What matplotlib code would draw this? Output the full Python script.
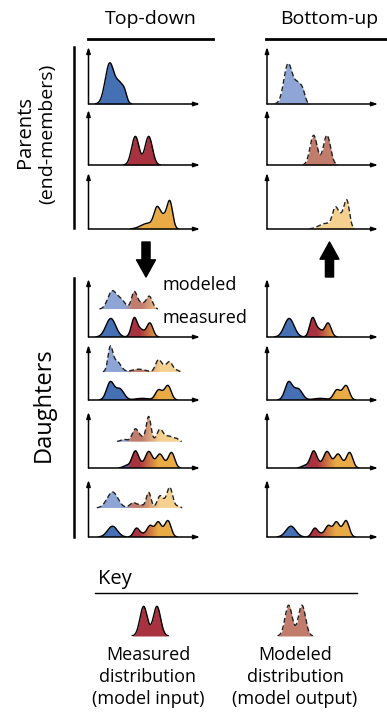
import numpy as np
import matplotlib.pyplot as plt
from matplotlib.colors import LinearSegmentedColormap
from matplotlib.patches import Polygon, FancyArrowPatch

plt.rcParams['font.family'] = ['Open Sans', 'DejaVu Sans']

W, H = 387, 712

# peaks of every distribution: (centre, height, width), as fractions of its little axes
blue_parent = [(0.19, 0.71, 0.040), (0.28, 0.33, 0.035), (0.325, 0.12, 0.020)]
red_parent = [(0.42, 0.52, 0.033), (0.54, 0.52, 0.033)]
yellow_parent = [(0.53, 0.10, 0.060), (0.615, 0.34, 0.028), (0.675, 0.20, 0.030), (0.73, 0.47, 0.025)]

blue_parent_model = [(0.19, 0.70, 0.038), (0.28, 0.34, 0.035), (0.325, 0.12, 0.020)]
red_parent_model = [(0.42, 0.54, 0.032), (0.54, 0.54, 0.032)]
yellow_parent_model = [(0.53, 0.10, 0.060), (0.615, 0.32, 0.026), (0.67, 0.20, 0.030), (0.72, 0.47, 0.024)]

daughters_measured = [
    [(0.20, 0.32, 0.044), (0.41, 0.32, 0.026), (0.47, 0.12, 0.030), (0.55, 0.24, 0.028)],
    [(0.195, 0.32, 0.033), (0.28, 0.20, 0.038), (0.48, 0.03, 0.060), (0.625, 0.16, 0.028),
     (0.67, 0.07, 0.030), (0.715, 0.24, 0.028)],
    [(0.34, 0.04, 0.030), (0.42, 0.30, 0.030), (0.48, 0.04, 0.030), (0.54, 0.28, 0.030),
     (0.59, 0.04, 0.030), (0.64, 0.23, 0.030), (0.69, 0.04, 0.030), (0.745, 0.27, 0.028)],
    [(0.215, 0.19, 0.044), (0.43, 0.15, 0.026), (0.49, 0.05, 0.030), (0.55, 0.17, 0.026),
     (0.59, 0.06, 0.030), (0.625, 0.21, 0.025), (0.67, 0.08, 0.030), (0.715, 0.26, 0.027)],
]
daughters_modeled = [
    [(0.21, 0.30, 0.038), (0.29, 0.16, 0.038), (0.41, 0.29, 0.025), (0.47, 0.10, 0.030), (0.545, 0.22, 0.028)],
    [(0.195, 0.40, 0.021), (0.25, 0.20, 0.038), (0.45, 0.05, 0.060), (0.625, 0.20, 0.025),
     (0.675, 0.09, 0.030), (0.73, 0.17, 0.025), (0.79, 0.03, 0.020)],
    [(0.32, 0.04, 0.030), (0.42, 0.22, 0.028), (0.48, 0.07, 0.030), (0.54, 0.44, 0.021),
     (0.64, 0.21, 0.028), (0.72, 0.10, 0.040), (0.79, 0.04, 0.020)],
    [(0.215, 0.28, 0.048), (0.40, 0.09, 0.030), (0.47, 0.05, 0.030), (0.54, 0.27, 0.021),
     (0.64, 0.19, 0.025), (0.685, 0.07, 0.030), (0.73, 0.34, 0.025), (0.80, 0.03, 0.020)],
]
modeled_base = [0.48, 0.51, 0.47, 0.51]

blue, red, yellow = '#4670b4', '#a8323f', '#e9ab45'
blue_m, red_m, yellow_m = '#8ea5d5', '#c17c6c', '#f5d190'

cmap_meas = LinearSegmentedColormap.from_list(
    'meas', [(0, blue), (0.32, blue), (0.38, red), (0.45, red), (0.62, yellow), (1, yellow)])
cmap_mod = LinearSegmentedColormap.from_list(
    'mod', [(0, blue_m), (0.32, blue_m), (0.39, red_m), (0.47, red_m), (0.64, yellow_m), (1, yellow_m)])

xs = np.linspace(0, 1, 600)


def curve(peaks):
    y = np.zeros_like(xs)
    for c, h, w in peaks:
        y += h * np.exp(-0.5 * ((xs - c) / w) ** 2)
    return y


def px_axes(x0, y0, x1, y1):
    # rectangle given in pixels from the top-left corner
    return fig.add_axes([x0 / W, 1 - y1 / H, (x1 - x0) / W, (y1 - y0) / H])


def frame(ax):
    ax.set_xlim(0, 1)
    ax.set_ylim(0, 1)
    ax.axis('off')
    ap = dict(arrowstyle='-|>,head_length=0.6,head_width=0.2', lw=1.1, color='black',
              mutation_scale=6, shrinkA=0, shrinkB=0)
    ax.annotate('', xy=(1, 0), xytext=(0, 0), xycoords='axes fraction', arrowprops=ap)
    ax.annotate('', xy=(0, 1), xytext=(0, 0), xycoords='axes fraction', arrowprops=ap)


def draw(ax, peaks, base=0.0, color=None, cmap=None, dashed=False):
    y = curve(peaks)
    top = base + y
    if color is not None:
        ax.fill_between(xs, base, top, where=y > 0.002, color=color, lw=0, zorder=2)
    else:
        verts = np.column_stack([np.r_[xs, xs[::-1]], np.r_[top, np.full_like(xs, base)]])
        clip = Polygon(verts, facecolor='none', edgecolor='none')
        ax.add_patch(clip)
        img = ax.imshow(xs[None, :], extent=[0, 1, base, base + y.max() + 0.01], cmap=cmap,
                        vmin=0, vmax=1, aspect='auto', zorder=2, interpolation='bilinear')
        img.set_clip_path(clip)
    line = np.where(y > 0.004, top, np.nan)
    if dashed:
        ax.plot(xs, line, color='#222222', lw=1.0, ls=(0, (3.5, 2)), zorder=3)
    else:
        ax.plot(xs, line, color='black', lw=1.0, zorder=3)
    ax.set_xlim(0, 1)
    ax.set_ylim(0, 1)


fig = plt.figure(figsize=(W / 100, H / 100), dpi=100)

parent_rows = [(47, 104), (110, 165), (173, 229)]
daughter_rows = [(279, 337), (345, 400), (412, 468), (480, 537)]
left_x, right_x = (88.5, 200), (267, 378)

measured_parents = [(blue_parent, blue), (red_parent, red), (yellow_parent, yellow)]
modeled_parents = [(blue_parent_model, blue_m), (red_parent_model, red_m), (yellow_parent_model, yellow_m)]

for (y0, y1), (pk, col), (pkm, colm) in zip(parent_rows, measured_parents, modeled_parents):
    ax = px_axes(left_x[0], y0, left_x[1], y1)
    frame(ax)
    draw(ax, pk, color=col)
    ax = px_axes(right_x[0], y0, right_x[1], y1)
    frame(ax)
    draw(ax, pkm, color=colm, dashed=True)

for (y0, y1), meas, mod, b in zip(daughter_rows, daughters_measured, daughters_modeled, modeled_base):
    ax = px_axes(left_x[0], y0, left_x[1], y1)
    frame(ax)
    draw(ax, mod, base=b, cmap=cmap_mod, dashed=True)
    draw(ax, meas, cmap=cmap_meas)
    ax = px_axes(right_x[0], y0, right_x[1], y1)
    frame(ax)
    draw(ax, meas, cmap=cmap_meas)

# key
ax = px_axes(97, 579, 208, 636)
draw(ax, red_parent, color=red)
ax.axis('off')
ax = px_axes(242, 579, 353, 636)
draw(ax, red_parent_model, color=red_m, dashed=True)
ax.axis('off')


def ftext(x, y, s, **kw):
    fig.text(x / W, 1 - y / H, s, **kw)


def fline(x0, x1, y0, y1, lw):
    fig.add_artist(plt.Line2D([x0 / W, x1 / W], [1 - y0 / H, 1 - y1 / H], color='black', lw=lw,
                              transform=fig.transFigure))


ftext(151, 19, 'Top-down', ha='center', va='center', fontsize=14)
ftext(329, 19, 'Bottom-up', ha='center', va='center', fontsize=14)
fline(88, 213, 38.5, 38.5, 2.0)
fline(266, 387, 38.5, 38.5, 2.0)

fline(74, 74, 47, 228, 1.8)
fline(74, 74, 278, 537, 1.8)
ftext(25, 132, 'Parents', ha='center', va='center', rotation=90, fontsize=14.5)
ftext(47, 134, '(end-members)', ha='center', va='center', rotation=90, fontsize=14)
ftext(44, 405, 'Daughters', ha='center', va='center', rotation=90, fontsize=17)

ftext(163, 285, 'modeled', ha='left', va='center', fontsize=13)
ftext(163, 318, 'measured', ha='left', va='center', fontsize=13)

big = dict(arrowstyle='simple,head_length=0.95,head_width=1.05,tail_width=0.45', color='black',
           mutation_scale=13, shrinkA=0, shrinkB=0, transform=fig.transFigure)
fig.add_artist(FancyArrowPatch((146 / W, 1 - 242 / H), (146 / W, 1 - 277 / H), **big))
fig.add_artist(FancyArrowPatch((329.5 / W, 1 - 277 / H), (329.5 / W, 1 - 242 / H), **big))

ftext(98, 579, 'Key', ha='left', va='center', fontsize=14.5)
fline(95, 357, 593, 593, 1.0)
ftext(148, 677, 'Measured\ndistribution\n(model input)', ha='center', va='center', fontsize=13,
      linespacing=1.3)
ftext(295, 677, 'Modeled\ndistribution\n(model output)', ha='center', va='center', fontsize=13,
      linespacing=1.3)

fig.savefig('out.png', dpi=100)
